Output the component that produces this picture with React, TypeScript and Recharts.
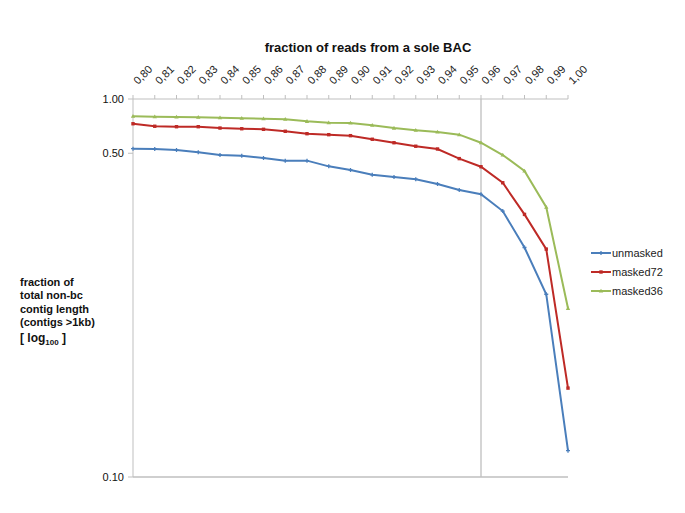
import React from 'react';
import { LineChart, Line, XAxis, YAxis, ReferenceLine, Legend } from 'recharts';

const categories = ['0,80', '0,81', '0,82', '0,83', '0,84', '0,85', '0,86', '0,87', '0,88', '0,89', '0,90', '0,91', '0,92', '0,93', '0,94', '0,95', '0,96', '0,97', '0,98', '0,99', '1,00'];
const unmasked = [0.530, 0.528, 0.521, 0.506, 0.489, 0.485, 0.471, 0.455, 0.455, 0.423, 0.404, 0.380, 0.369, 0.359, 0.338, 0.313, 0.296, 0.239, 0.150, 0.0826, 0.0112];
const masked72 = [0.729, 0.706, 0.702, 0.702, 0.690, 0.684, 0.679, 0.662, 0.642, 0.634, 0.626, 0.598, 0.572, 0.547, 0.528, 0.467, 0.421, 0.343, 0.229, 0.147, 0.0249];
const masked36 = [0.802, 0.798, 0.795, 0.792, 0.788, 0.782, 0.777, 0.772, 0.752, 0.739, 0.736, 0.715, 0.690, 0.671, 0.656, 0.634, 0.572, 0.489, 0.399, 0.251, 0.069];
const seriesNames = ['unmasked', 'masked72', 'masked36'];
const yTickValues = [0.008, 0.5, 1];
const yTickLabels = ['0.10', '0.50', '1.00'];
const markerCategory = '0,96';

const COLORS: Record<string, string> = { unmasked: '#4A7EBB', masked72: '#BE2A26', masked36: '#9BBB59' };
const AXIS = '#BFBFBF';
const FONT = '"Liberation Sans", Arial, sans-serif';

const data = categories.map((c, i) => ({ x: c, unmasked: unmasked[i], masked72: masked72[i], masked36: masked36[i] }));

function Marker({ name, cx, cy }: { name: string; cx: number; cy: number }) {
  const c = COLORS[name];
  if (cx == null || cy == null) return null;
  if (name === 'unmasked') {
    return <path d={`M${cx - 2},${cy} H${cx + 2} M${cx},${cy - 2} V${cy + 2}`} stroke={c} strokeWidth={1.3} fill="none" />;
  }
  if (name === 'masked72') {
    return <rect x={cx - 1.7} y={cy - 1.7} width={3.4} height={3.4} fill={c} />;
  }
  return <path d={`M${cx},${cy - 2.2} L${cx + 2.2},${cy + 1.6} L${cx - 2.2},${cy + 1.6} Z`} fill={c} />;
}

const makeDot = (name: string) => (props: any) => <Marker key={`${name}-${props.index}`} name={name} cx={props.cx} cy={props.cy} />;

function XTick(props: any) {
  const { x, y, payload } = props;
  const sx = x + 5;
  const sy = y - 8;
  return (
    <text x={sx} y={sy} transform={`rotate(-45, ${sx}, ${sy})`} textAnchor="start" fontSize={11} fontFamily={FONT} fill="#222">
      {payload.value}
    </text>
  );
}

function LegendContent() {
  return (
    <div style={{ fontFamily: FONT, fontSize: 11, color: '#222' }}>
      {seriesNames.map((n) => (
        <div key={n} style={{ display: 'flex', alignItems: 'center', height: 19 }}>
          <svg width={20} height={10} style={{ marginRight: 1 }}>
            <line x1={0} y1={5} x2={20} y2={5} stroke={COLORS[n]} strokeWidth={2} />
            <Marker name={n} cx={10} cy={5} />
          </svg>
          <span>{n}</span>
        </div>
      ))}
    </div>
  );
}

export default function App() {
  return (
    <div style={{ position: 'absolute', left: 0, top: 0, width: 685, height: 513, background: '#fff' }}>
      <div style={{ position: 'absolute', left: 218, top: 40, width: 300, textAlign: 'center', fontFamily: FONT, fontWeight: 'bold', fontSize: 13, color: '#111' }}>
        fraction of reads from a sole BAC
      </div>
      <div style={{ position: 'absolute', left: 20, top: 276, fontFamily: FONT, fontWeight: 'bold', fontSize: 11, lineHeight: '13.3px', color: '#111' }}>
        <div>fraction of</div>
        <div>total non-bc</div>
        <div>contig length</div>
        <div>(contigs &gt;1kb)</div>
        <div style={{ marginTop: 3, fontSize: 12 }}>
          [ log<sub style={{ fontSize: 8 }}>100</sub> ]
        </div>
      </div>
      <LineChart width={685} height={513} data={data} margin={{ top: 39, right: 117, bottom: 36, left: 73 }}>
        <XAxis
          dataKey="x"
          orientation="top"
          height={60}
          interval={0}
          tickSize={4}
          axisLine={{ stroke: AXIS }}
          tickLine={{ stroke: AXIS }}
          tick={<XTick />}
        />
        <YAxis
          width={60}
          scale="log"
          domain={[yTickValues[0], 1]}
          allowDataOverflow
          ticks={yTickValues}
          tickFormatter={(v: number) => yTickLabels[yTickValues.indexOf(v)]}
          tickSize={5}
          tickMargin={4}
          axisLine={{ stroke: AXIS }}
          tickLine={{ stroke: AXIS }}
          tick={{ fontSize: 11, fontFamily: FONT, fill: '#111' }}
        />
        <ReferenceLine x={markerCategory} stroke={AXIS} strokeWidth={1.3} />
        <ReferenceLine y={yTickValues[0]} stroke={AXIS} strokeWidth={1.3} />
        {seriesNames.map((n) => (
          <Line
            key={n}
            type="linear"
            dataKey={n}
            name={n}
            stroke={COLORS[n]}
            strokeWidth={2}
            dot={makeDot(n)}
            activeDot={false}
            isAnimationActive={false}
          />
        ))}
        <Legend
          layout="vertical"
          align="center"
          verticalAlign="middle"
          wrapperStyle={{ left: 591, top: 243, width: 'auto' }}
          content={<LegendContent />}
        />
      </LineChart>
    </div>
  );
}
